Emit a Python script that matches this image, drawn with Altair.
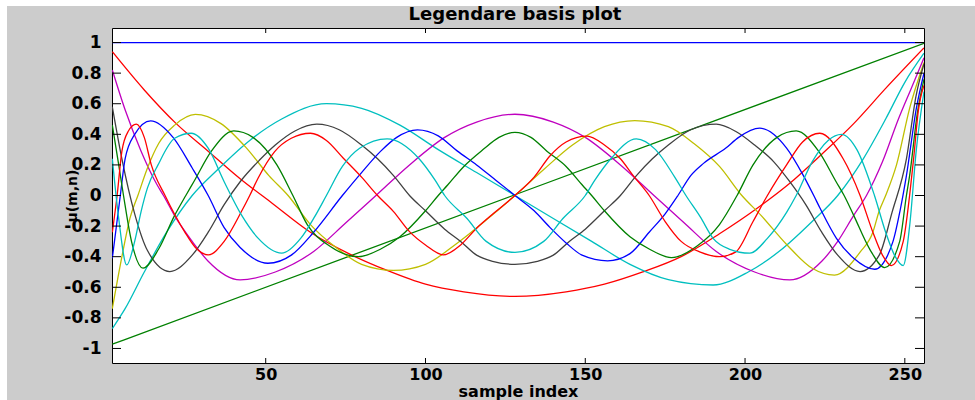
import altair as alt
import pandas as pd

# ---------------- data ----------------
curve_names = ["n00", "n01", "n02", "n03", "n04", "n05", "n06", "n07", "n08", "n09", "n10"]
curve_colors = ["#0000ff", "#008000", "#ff0000", "#00bfbf", "#bf00bf", "#bfbf00",
                "#404040", "#0000ff", "#008000", "#ff0000", "#00bfbf"]

n00_x = [2, 256]
n00_y = [1.0, 1.0]

n01_x = [2, 128, 256]
n01_y = [-0.972, 0.005, 0.995]

n02_x = [2, 12, 22, 32, 42, 52, 64, 76, 88, 100, 112, 128, 144, 156, 168, 180, 192, 204, 214, 224, 234, 244, 256]
n02_y = [0.94, 0.69, 0.47, 0.29, 0.11, -0.05, -0.24, -0.38, -0.49, -0.58, -0.63, -0.66, -0.63, -0.58, -0.50,
         -0.40, -0.25, -0.08, 0.08, 0.27, 0.47, 0.70, 0.965]

n03_x = [2, 6, 12, 19, 27, 35, 45, 55, 69, 80, 92, 104, 116, 128, 140, 152, 164, 176, 190, 201, 211, 221,
         229, 237, 244, 250, 256]
n03_y = [-0.87, -0.74, -0.50, -0.24, 0.0, 0.17, 0.36, 0.50, 0.60, 0.57, 0.46, 0.30, 0.15, 0.0, -0.15, -0.30,
         -0.45, -0.55, -0.585, -0.50, -0.36, -0.17, 0.0, 0.24, 0.50, 0.74, 0.93]

n04_x = [2, 6, 11, 16, 18, 22, 27, 32, 42, 53, 65, 75, 84.5, 95, 106, 116, 128, 140, 150, 161, 171.5, 181,
         191, 203, 214, 224, 229, 234, 238, 243, 248, 252, 256]
n04_y = [0.82, 0.56, 0.29, 0.07, 0.0, -0.15, -0.30, -0.43, -0.552, -0.50, -0.366, -0.18, 0.0, 0.20, 0.38,
         0.48, 0.531, 0.48, 0.38, 0.20, 0.0, -0.18, -0.366, -0.50, -0.552, -0.43, -0.30, -0.13, 0.0, 0.22,
         0.50, 0.70, 0.90]

n05_x = [2, 5, 7.5, 10, 13, 16.5, 21.5, 28, 36, 44, 51, 57, 64, 72, 80, 90, 100, 110, 119, 128, 137, 146,
         156, 165.5, 176, 184, 192, 199, 205, 213, 221, 228, 236, 240, 242, 244, 247.4, 251.5, 256]
n05_y = [-0.74, -0.40, -0.15, 0.0, 0.18, 0.34, 0.46, 0.53, 0.47, 0.31, 0.13, 0.0, -0.19, -0.34, -0.45,
         -0.49, -0.45, -0.31, -0.16, 0.0, 0.17, 0.33, 0.45, 0.49, 0.45, 0.34, 0.19, 0.0, -0.13, -0.32,
         -0.476, -0.52, -0.37, -0.24, -0.10, 0.0, 0.20, 0.57, 0.87]

n06_x = [2, 5, 9, 13, 20, 27, 32, 37, 42, 48, 53, 59, 66, 73, 80, 85, 90, 95, 100, 106, 111, 116, 121, 128,
         135, 140, 145, 150, 156, 161, 166, 171, 176, 183, 191, 197, 203, 209, 214, 219, 224, 229, 236,
         242, 246, 250.5, 253.5, 256]
n06_y = [0.58, 0.24, -0.12, -0.36, -0.497, -0.39, -0.24, -0.06, 0.09, 0.23, 0.33, 0.42, 0.466, 0.43, 0.33,
         0.24, 0.13, 0.0, -0.10, -0.22, -0.30, -0.39, -0.43, -0.45, -0.43, -0.39, -0.30, -0.22, -0.10, 0.0,
         0.13, 0.24, 0.33, 0.43, 0.466, 0.42, 0.33, 0.22, 0.09, -0.06, -0.24, -0.39, -0.497, -0.39, -0.11,
         0.24, 0.65, 0.86]

n07_x = [2, 4.5, 6, 9, 14, 21, 27, 32, 37, 42, 50.7, 58, 65, 74, 80, 86, 91, 97.5, 104, 110, 116, 122, 128,
         134, 139, 144, 149, 157, 164, 170, 175, 179, 183, 187, 194, 198, 204.6, 213, 218, 221.5, 223.4,
         228.6, 234, 240.6, 246.3, 248.5, 250.5, 253.6, 256]
n07_y = [-0.41, 0.0, 0.24, 0.40, 0.488, 0.38, 0.18, 0.0, -0.21, -0.34, -0.443, -0.39, -0.24, 0.0, 0.15,
         0.29, 0.38, 0.429, 0.39, 0.29, 0.20, 0.10, 0.0, -0.10, -0.21, -0.31, -0.39, -0.427, -0.38, -0.24,
         -0.12, 0.0, 0.13, 0.21, 0.31, 0.38, 0.44, 0.31, 0.14, 0.0, -0.08, -0.28, -0.41, -0.482, -0.30,
         -0.10, 0.13, 0.57, 0.80]

n08_x = [2, 4, 5.5, 8, 11.6, 16.5, 21.5, 25, 27.5, 33, 40, 46, 53.5, 58.5, 63, 70, 79, 86, 92, 100, 104,
         107, 112, 118, 123, 128, 133, 138, 144, 149, 152, 156, 164, 170, 177, 185, 192, 197.5, 202.5, 210,
         216, 223, 228.5, 231, 234, 239, 243.7, 248.4, 250.5, 251.5, 254, 256]
n08_y = [0.46, 0.20, 0.0, -0.30, -0.475, -0.35, -0.13, 0.0, 0.09, 0.29, 0.422, 0.38, 0.20, 0.0, -0.19,
         -0.33, -0.40, -0.35, -0.27, -0.10, 0.0, 0.07, 0.19, 0.30, 0.38, 0.413, 0.38, 0.29, 0.19, 0.07, 0.0,
         -0.10, -0.27, -0.35, -0.406, -0.33, -0.19, 0.0, 0.20, 0.38, 0.422, 0.29, 0.09, 0.0, -0.13, -0.35,
         -0.471, -0.30, 0.0, 0.13, 0.55, 0.76]

n09_x = [2, 3.5, 5, 7, 9.5, 12, 14.2, 18.5, 24.6, 28, 32, 37, 42.4, 45, 47.6, 52.8, 58, 64, 69, 74.3, 80,
         85, 90, 95, 100, 105.6, 111, 116, 122, 128, 134, 139, 144, 150.5, 156, 161, 165, 170, 175, 180,
         186, 192, 197, 202.5, 207, 213, 218, 223.4, 230.7, 236, 240, 243, 245.8, 249.5, 251.5, 252.8,
         254.2, 256]
n09_y = [-0.24, 0.0, 0.29, 0.42, 0.466, 0.38, 0.20, 0.0, -0.236, -0.34, -0.388, -0.30, -0.105, 0.0, 0.113,
         0.287, 0.374, 0.407, 0.36, 0.244, 0.12, 0.0, -0.105, -0.236, -0.323, -0.388, -0.323, -0.214,
         -0.105, 0.0, 0.12, 0.26, 0.35, 0.388, 0.33, 0.24, 0.13, 0.0, -0.17, -0.30, -0.37, -0.40, -0.37,
         -0.17, 0.0, 0.20, 0.35, 0.407, 0.24, 0.0, -0.24, -0.39, -0.458, -0.30, 0.0, 0.25, 0.55, 0.72]

n10_x = [2, 4, 6.5, 9, 11, 13, 16.3, 21.5, 26.7, 32, 37, 42.4, 47.6, 55, 61, 65, 69, 74, 79.5, 88, 98, 103,
         106, 113, 119, 128, 137, 143, 150, 153, 158, 166, 172, 178, 181.5, 186, 190, 195, 201.5, 207, 213,
         216, 221, 226, 230.2, 235, 240.5, 244, 247, 249.5, 251.5, 253.6, 256]
n10_y = [0.24, -0.15, -0.454, -0.30, -0.105, 0.05, 0.20, 0.374, 0.407, 0.309, 0.09, -0.127, -0.279, -0.377,
         -0.279, -0.15, 0.0, 0.19, 0.31, 0.37, 0.24, 0.10, 0.0, -0.15, -0.30, -0.372, -0.30, -0.15, 0.0,
         0.10, 0.24, 0.37, 0.30, 0.12, 0.0, -0.14, -0.28, -0.35, -0.377, -0.28, -0.11, 0.0, 0.22, 0.36,
         0.40, 0.30, 0.0, -0.24, -0.40, -0.458, -0.20, 0.30, 0.68]

x_ticks = [50, 100, 150, 200, 250]
y_ticks = [-1, -0.8, -0.6, -0.4, -0.2, 0, 0.2, 0.4, 0.6, 0.8, 1]

title_text = "Legendare basis plot"
x_title = "sample index"
y_title = "u(m,n)"

# ---------------- build the table ----------------
all_x = [n00_x, n01_x, n02_x, n03_x, n04_x, n05_x, n06_x, n07_x, n08_x, n09_x, n10_x]
all_y = [n00_y, n01_y, n02_y, n03_y, n04_y, n05_y, n06_y, n07_y, n08_y, n09_y, n10_y]
rows = []
for name, xs, ys in zip(curve_names, all_x, all_y):
    for a, b in zip(xs, ys):
        rows.append({"curve": name, "x": a, "y": b})
df = pd.DataFrame(rows)

W, H = 812, 335
FONT = "DejaVu Sans"
xscale = alt.Scale(domain=[1.9, 256], nice=False, zero=False)
yscale = alt.Scale(domain=[-1.095, 1.095], nice=False, zero=False)

x_axis = alt.Axis(values=x_ticks, title=x_title, ticks=False, tickSize=0, domain=False, grid=False,
                  labelPadding=3, labelFontSize=16, titleY=33, titleBaseline="alphabetic", titleFontSize=16)
y_axis = alt.Axis(values=y_ticks, title=y_title, ticks=False, tickSize=0, domain=False, grid=False,
                  labelPadding=11, labelFontSize=17, titleX=-40, titleBaseline="middle", titleFontSize=14,
                  labelExpr="datum.value < 0 ? '-' + format(-datum.value, '~g') : format(datum.value, '~g')")

lines = alt.Chart(df).mark_line(interpolate="monotone", strokeWidth=1.3, clip=True).encode(
    x=alt.X("x:Q", scale=xscale, axis=x_axis),
    y=alt.Y("y:Q", scale=yscale, axis=y_axis),
    color=alt.Color("curve:N", scale=alt.Scale(domain=curve_names, range=curve_colors), legend=None),
)

xt = pd.DataFrame({"v": x_ticks})
yt = pd.DataFrame({"v": y_ticks})
tick_color = "#000000"
bottom_ticks = alt.Chart(xt).mark_rule(color=tick_color, strokeWidth=1).encode(
    x=alt.X("v:Q", scale=xscale, axis=x_axis), y=alt.value(H), y2=alt.value(H - 5))
top_ticks = alt.Chart(xt).mark_rule(color=tick_color, strokeWidth=1).encode(
    x=alt.X("v:Q", scale=xscale, axis=x_axis), y=alt.value(0), y2=alt.value(5))
left_ticks = alt.Chart(yt).mark_rule(color=tick_color, strokeWidth=1).encode(
    y=alt.Y("v:Q", scale=yscale, axis=y_axis), x=alt.value(0), x2=alt.value(9))
right_ticks = alt.Chart(yt).mark_rule(color=tick_color, strokeWidth=1).encode(
    y=alt.Y("v:Q", scale=yscale, axis=y_axis), x=alt.value(W), x2=alt.value(W - 9))

one = pd.DataFrame({"k": [0]})
strip_left = alt.Chart(one).mark_rect(color="white").encode(
    x=alt.value(-112), x2=alt.value(-105), y=alt.value(-28), y2=alt.value(H + 37))
strip_top = alt.Chart(one).mark_rect(color="white").encode(
    x=alt.value(-112), x2=alt.value(W + 51), y=alt.value(-28), y2=alt.value(-22))
title_mark = alt.Chart(one).mark_text(
    font=FONT, fontSize=18, fontWeight="bold", color="#000000", align="center", baseline="alphabetic"
).encode(x=alt.value(W / 2 - 3), y=alt.value(-8), text=alt.value(title_text))

chart = alt.layer(
    lines, bottom_ticks, top_ticks, left_ticks, right_ticks, strip_left, strip_top, title_mark
).properties(
    width=W, height=H,
    padding={"left": 112, "top": 28, "right": 51, "bottom": 37},
    autosize=alt.AutoSizeParams(type="none"),
    background="#cccccc",
).configure_view(
    stroke="#000000", strokeWidth=1, fill="white"
).configure_axis(
    labelFont=FONT, labelFontWeight="bold", labelColor="#000000",
    titleFont=FONT, titleFontWeight="bold", titleColor="#000000",
)

chart.save("out.html", embed_options={"renderer": "svg", "actions": False})
